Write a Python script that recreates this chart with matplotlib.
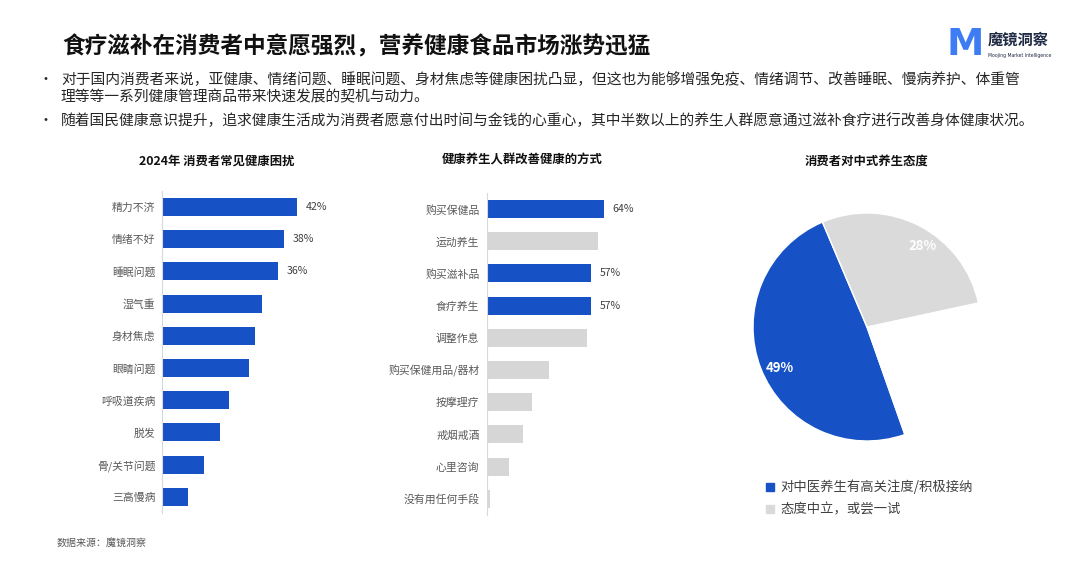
import matplotlib
matplotlib.use("Agg")
import matplotlib.pyplot as plt
from matplotlib.patches import Rectangle
import numpy as np

plt.rcParams['font.family'] = ['Noto Sans CJK SC', 'DejaVu Sans']

# ---------------- data ----------------
title = "食疗滋补在消费者中意愿强烈，营养健康食品市场涨势迅猛"
bullet1_l1 = "对于国内消费者来说，亚健康、情绪问题、睡眠问题、身材焦虑等健康困扰凸显，但这也为能够增强免疫、情绪调节、改善睡眠、慢病养护、体重管"
bullet1_l2 = "理等等一系列健康管理商品带来快速发展的契机与动力。"
bullet2 = "随着国民健康意识提升，追求健康生活成为消费者愿意付出时间与金钱的心重心，其中半数以上的养生人群愿意通过滋补食疗进行改善身体健康状况。"
source = "数据来源：魔镜洞察"

left_title = "2024年 消费者常见健康困扰"
left_cats = ['精力不济', '情绪不好', '睡眠问题', '湿气重', '身材焦虑', '眼睛问题',
             '呼吸道疾病', '脱发', '骨/关节问题', '三高慢病']
left_vals = [42, 38, 36, 31, 29, 27, 21, 18, 13, 8]
left_show = [True, True, True, False, False, False, False, False, False, False]

mid_title = "健康养生人群改善健康的方式"
mid_cats = ['购买保健品', '运动养生', '购买滋补品', '食疗养生', '调整作息', '购买保健用品/器材',
            '按摩理疗', '戒烟戒酒', '心里咨询', '没有用任何手段']
mid_vals = [64, 61, 57, 57, 55, 34, 25, 20, 12, 2]
mid_highlight = [True, False, True, True, False, False, False, False, False, False]

pie_title = "消费者对中式养生态度"
pie_cats = ['对中医养生有高关注度/积极接纳', '态度中立，或尝一试']
pie_vals = [49, 28]
pie_rest = 23

BLUE = '#1652C6'
GRAY = '#d6d6d6'
PIE_GRAY = '#dadada'
TXT = '#262626'
LBL = '#595959'

W, H = 1080, 568
fig = plt.figure(figsize=(W / 100, H / 100), dpi=100)
fig.patch.set_facecolor('white')


def fx(x):
    return x / W


def fy(y):
    return 1 - y / H


def axes_px(left, top, width, height):
    return fig.add_axes([left / W, 1 - (top + height) / H, width / W, height / H])


# ---------------- header ----------------
fig.text(fx(62), fy(47), title, fontsize=16.3, fontweight='heavy', color='#111111',
         va='center', ha='left')
# logo
fig.text(fx(946), fy(45), "M", fontsize=27, fontweight='bold', color='#3d7cf2',
         va='center', ha='left', family='DejaVu Sans')
fig.text(fx(988), fy(40), "魔镜洞察", fontsize=11, fontweight='bold', color='#1f2a44',
         va='center', ha='left')
fig.text(fx(988), fy(55), "Moojing Market Intelligence", fontsize=3.3, color='#1f2a44',
         va='center', ha='left', family='DejaVu Sans')

# bullets
fig.text(fx(38), fy(80), "•", fontsize=10, color=TXT, va='center', ha='left')
fig.text(fx(61), fy(80), bullet1_l1, fontsize=10.65, color=TXT, va='center', ha='left')
fig.text(fx(61), fy(97), bullet1_l2, fontsize=10.65, color=TXT, va='center', ha='left')
fig.text(fx(38), fy(121), "•", fontsize=10, color=TXT, va='center', ha='left')
fig.text(fx(61), fy(121), bullet2, fontsize=10.65, color=TXT, va='center', ha='left')

fig.text(fx(57), fy(544), source, fontsize=7.2, color=LBL, va='center', ha='left')


# ---------------- bar charts ----------------
def bar_panel(ax, cats, vals, colors, show, xmax, pad):
    n = len(cats)
    y = list(range(n))
    ax.barh(y, vals, height=0.56, color=colors, zorder=2)
    ax.set_xlim(0, xmax)
    ax.set_ylim(n - 0.5, -0.5)
    ax.set_yticks(y)
    ax.set_yticklabels(cats, fontsize=7.8, color=LBL)
    ax.tick_params(axis='y', length=0, pad=pad)
    ax.set_xticks([])
    for s in ['top', 'right', 'bottom']:
        ax.spines[s].set_visible(False)
    ax.spines['left'].set_color('#d9d9d9')
    ax.spines['left'].set_linewidth(0.8)
    ax.set_facecolor('none')
    for yi, v, sh in zip(y, vals, show):
        if sh:
            ax.annotate(f"{v}%", (v, yi), xytext=(6, 0), textcoords='offset points',
                        va='center', ha='left', fontsize=7.6, color='#404040',
                        annotation_clip=False)


ax1 = axes_px(161.7, 190.9, 3.227 * 50, 322)
bar_panel(ax1, left_cats, left_vals, [BLUE] * len(left_vals), left_show, 50, 4.5)
fig.text(fx(217), fy(161), left_title, fontsize=8.9, fontweight='bold', color='#111111',
         ha='center', va='center')

ax2 = axes_px(486.7, 192.9, 1.83 * 70, 322)
bar_panel(ax2, mid_cats, mid_vals, [BLUE if h else GRAY for h in mid_highlight],
          mid_highlight, 70, 5.2)
fig.text(fx(522), fy(160), mid_title, fontsize=8.9, fontweight='bold', color='#111111',
         ha='center', va='center')

# ---------------- pie ----------------
R = 114
cx, cy = 867, 327
ax3 = axes_px(cx - R, cy - R, 2 * R, 2 * R)
vals = [pie_vals[0], pie_rest, pie_vals[1]]
cols = [BLUE, 'white', PIE_GRAY]
label_place = {0: (f"{pie_vals[0]}%", 0.85, 4), 2: (f"{pie_vals[1]}%", 0.86, -7)}
wedges, _ = ax3.pie(vals, colors=cols, startangle=113, counterclock=True,
                    wedgeprops=dict(edgecolor='white', linewidth=1))
total = sum(vals)
ang = 113
for i, v in enumerate(vals):
    span = v / total * 360
    if i in label_place:
        txt, r, off = label_place[i]
        mid = np.deg2rad(ang + span / 2 + off)
        ax3.text(r * np.cos(mid), r * np.sin(mid), txt, color='white',
                 fontsize=9.5, fontweight='bold', ha='center', va='center')
    ang += span
ax3.set_xlim(-1, 1)
ax3.set_ylim(-1, 1)
ax3.set_aspect('equal')
ax3.axis('off')
fig.text(fx(867), fy(161), pie_title, fontsize=8.9, fontweight='bold', color='#111111',
         ha='center', va='center')

# legend
for i, (lab, c) in enumerate(zip(pie_cats, [BLUE, PIE_GRAY])):
    yy = 487 + i * 22
    fig.patches.append(Rectangle((fx(766), fy(yy + 4)), 8 / W, 8 / H, color=c,
                                 transform=fig.transFigure, figure=fig))
    fig.text(fx(780), fy(yy), lab, fontsize=9.6, color='#404040', ha='left', va='center')

fig.savefig("out.png", dpi=100)
